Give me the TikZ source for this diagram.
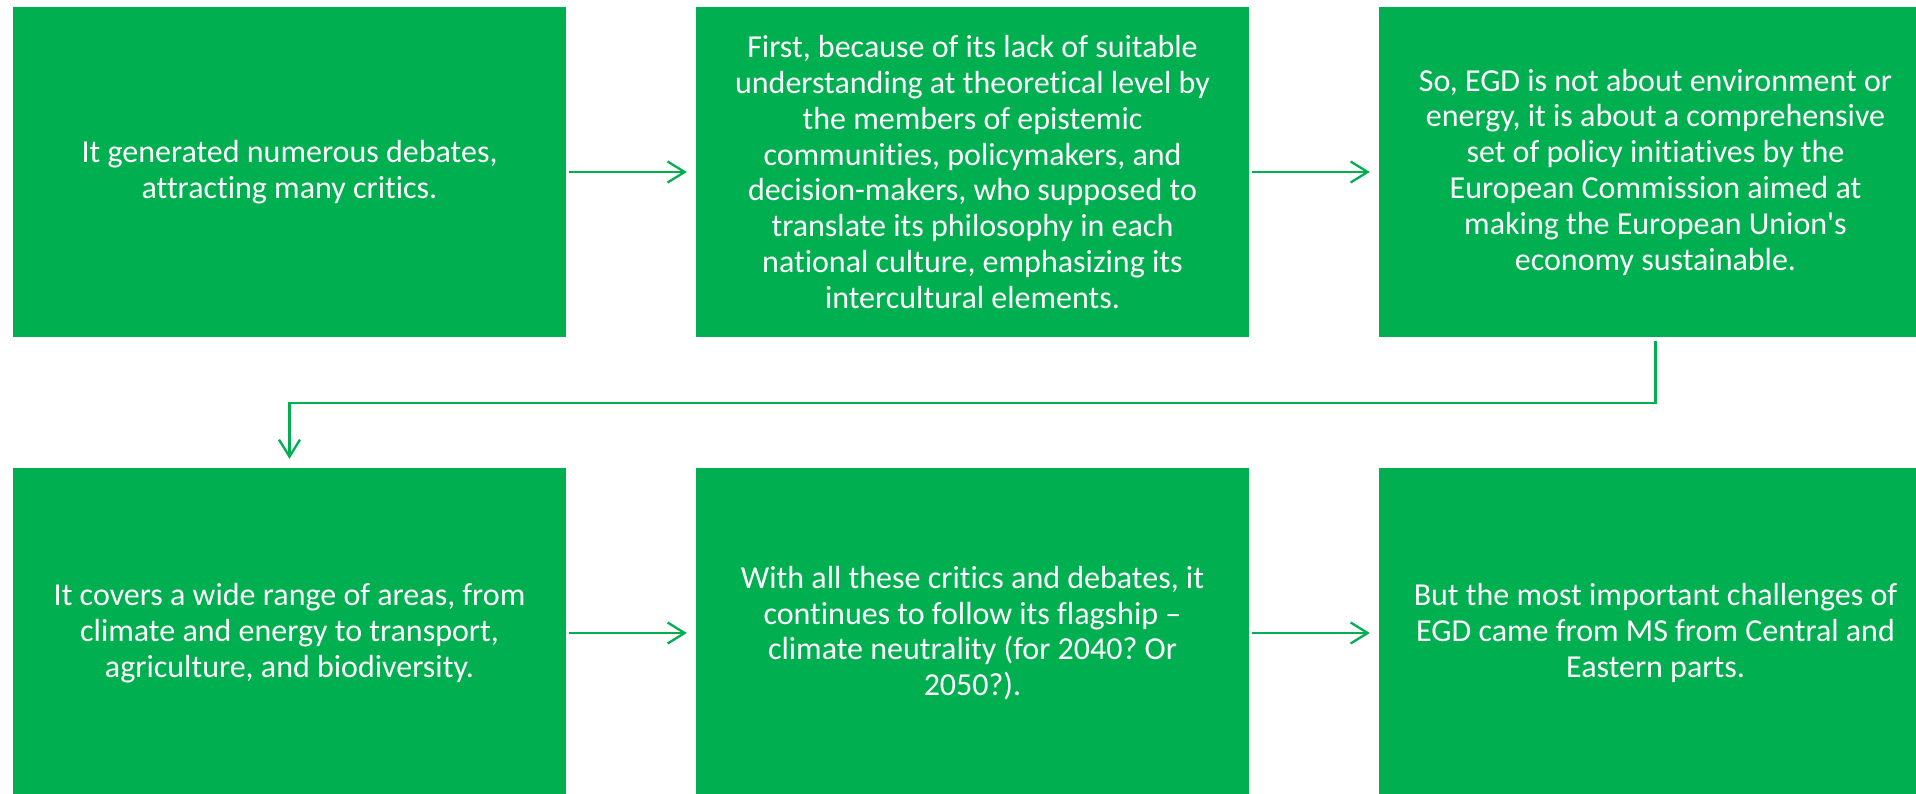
\documentclass[tikz,border=0pt]{standalone}
\usepackage{fontspec}
\setmainfont{Carlito}[Ligatures={TeXOff,NoCommon}]
\usetikzlibrary{arrows.meta,calc}
\definecolor{egdgreen}{HTML}{00B050}
\frenchspacing
\begin{document}
\begin{tikzpicture}[x=1pt,y=-1pt,
  box/.style={rectangle,fill=egdgreen,draw=none,minimum width=553pt,minimum height=330pt,
    inner sep=0pt,align=center,text=white,font=\fontsize{32}{35.8}\selectfont},
  conn/.style={draw=egdgreen,line width=2.3pt,
    -{Straight Barb[length=17pt,width=21pt]},shorten <=3pt,shorten >=9pt}]
\useasboundingbox (0,0) rectangle (1916,793);
\clip (0,0) rectangle (1916,793);
\node[box] (b1) at (289.5,172) {It generated numerous debates,\\attracting many critics.};
\node[box] (b2) at (972.5,172) {First, because of its lack of suitable\\understanding at theoretical level by\\the members of epistemic\\communities, policymakers, and\\decision-makers, who supposed to\\translate its philosophy in each\\national culture, emphasizing its\\intercultural elements.};
\node[box] (b3) at (1655.5,172) {So, EGD is not about environment or\\energy, it is about a comprehensive\\set of policy initiatives by the\\European Commission aimed at\\making the European Union's\\economy sustainable.};
\node[box] (b4) at (289.5,633) {It covers a wide range of areas, from\\climate and energy to transport,\\agriculture, and biodiversity.};
\node[box] (b5) at (972.5,633) {With all these critics and debates, it\\continues to follow its flagship –\\climate neutrality (for 2040? Or\\2050?).};
\node[box] (b6) at (1655.5,633) {But the most important challenges of\\EGD came from MS from Central and\\Eastern parts.};
\draw[conn] (b1) -- (b2);
\draw[conn] (b2) -- (b3);
\draw[conn] (b4) -- (b5);
\draw[conn] (b5) -- (b6);
\coordinate (elb) at ($(b4.north)+(0,-65)$);
\draw[conn,shorten <=4pt] (b3.south) |- (elb) -- (b4.north);
\end{tikzpicture}
\end{document}
